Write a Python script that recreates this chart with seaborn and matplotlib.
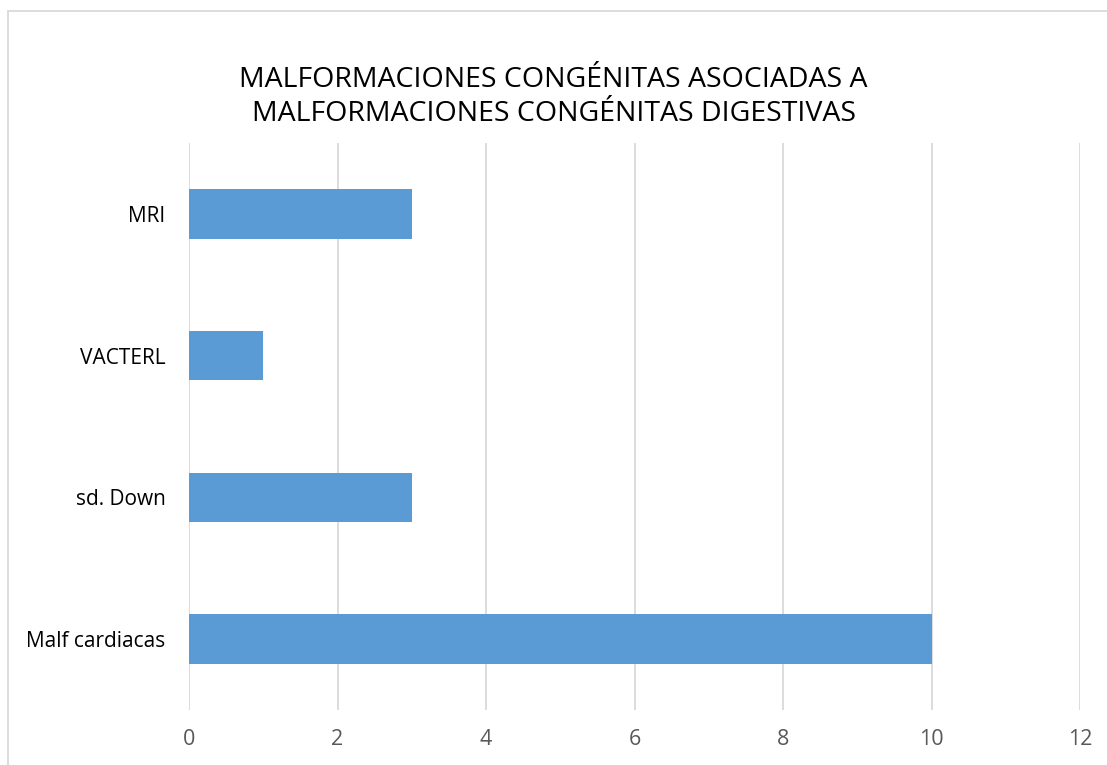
import matplotlib
matplotlib.use("Agg")
import matplotlib.pyplot as plt
import seaborn as sns
import pandas as pd
from matplotlib.patches import Rectangle

categories = ["MRI", "VACTERL", "sd. Down", "Malf cardiacas"]
values = [3, 1, 3, 10]
x_ticks = [0, 2, 4, 6, 8, 10, 12]
title = "MALFORMACIONES CONGÉNITAS ASOCIADAS A\nMALFORMACIONES CONGÉNITAS DIGESTIVAS"

sns.set_theme(style="white")
plt.rcParams['font.family'] = ['Open Sans', 'DejaVu Sans']

df = pd.DataFrame({"cat": categories, "val": values})

fig = plt.figure(figsize=(11.07, 7.65), dpi=100)
ax = fig.add_axes([189/1107, 1-710/765, (1080-189)/1107, (710-143)/765])

sns.barplot(data=df, y="cat", x="val", order=categories, color="#5B9BD5",
            saturation=1, width=0.35, ax=ax, orient="h", linewidth=0)

ax.set_xlim(0, 12)
ax.set_xticks(x_ticks)
ax.set_xticklabels([str(t) for t in x_ticks])
ax.set_xlabel("")
ax.set_ylabel("")
ax.grid(axis="x", color="#D9D9D9", linewidth=1.3)
ax.set_axisbelow(True)
for s in ax.spines.values():
    s.set_visible(False)
ax.tick_params(axis="x", colors="#595959", labelsize=15.5, length=0, pad=14)
ax.tick_params(axis="y", colors="#000000", labelsize=15, length=0, pad=17)
for lbl in ax.get_xticklabels():
    lbl.set_color("#595959")

fig.text(0.5, 1-97/765, title, ha="center", va="center", fontsize=20.5,
         color="#000000", linespacing=1.25)

fig.patches.append(Rectangle((7.5/1107, -0.1), 1.2, 1-11.5/765+0.1,
                             transform=fig.transFigure, fill=False,
                             edgecolor="#D9D9D9", linewidth=1.3))

fig.savefig("out.png", dpi=100)
